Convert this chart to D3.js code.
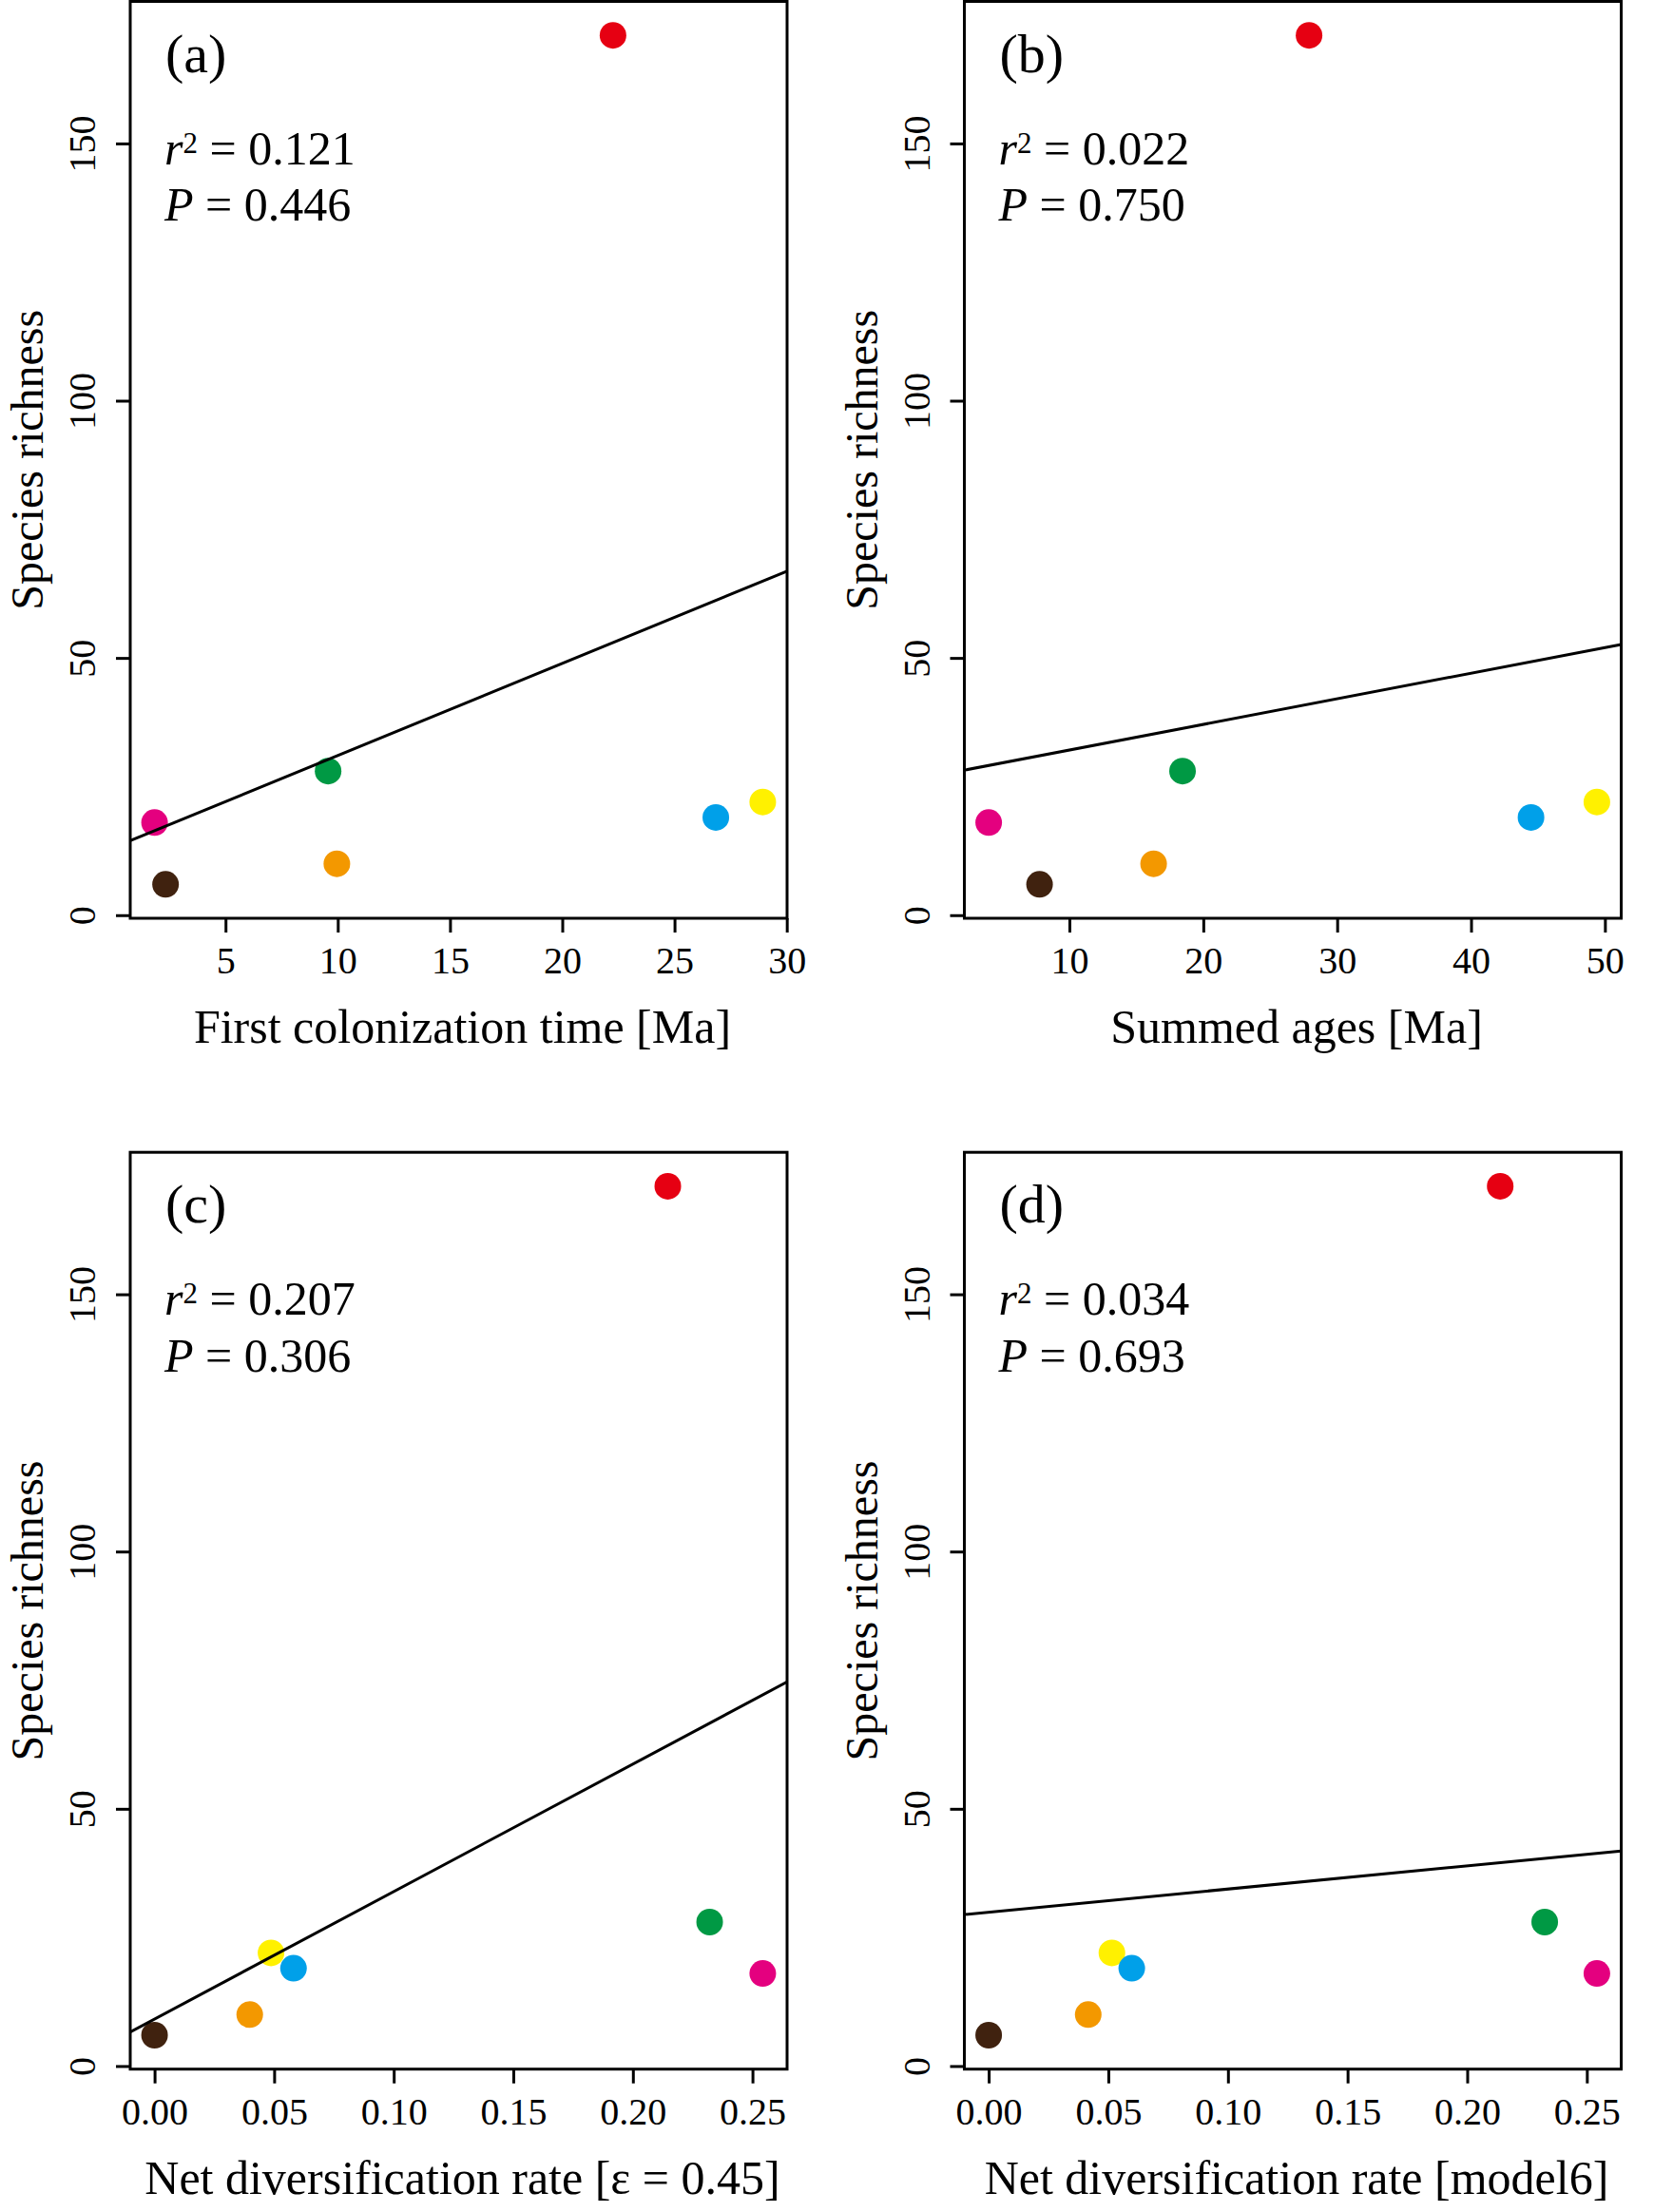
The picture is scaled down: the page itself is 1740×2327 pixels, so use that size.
<!DOCTYPE html>
<html>
<head>
<meta charset="utf-8">
<script src="https://cdn.jsdelivr.net/npm/d3@7"></script>
<style>
  body { margin: 0; background: #fff; }
  text { font-family: "Liberation Serif", "Times New Roman", serif; fill: #000; }
</style>
</head>
<body>
<div id="chart"></div>
<script>
// colour groups (order = drawing order)
var groupColors = ["#E60012", "#009944", "#E4007F", "#40220F", "#F39800", "#FFF100", "#00A0E9"];
var richness = [171, 28, 18, 6, 10, 22, 19];

var firstColonization = [22.26, 9.57, 1.84, 2.33, 9.96, 28.93, 26.84];
var summedAges = [27.9, 18.45, 3.97, 7.77, 16.29, 49.40, 44.48];
var netDivEps = [0.2146, 0.2321, 0.2543, 0, 0.0398, 0.0487, 0.0581];
var netDivModel6 = [0.2138, 0.2324, 0.2542, 0, 0.0416, 0.0515, 0.0598];

var panelTags = ["(a)", "(b)", "(c)", "(d)"];
var xTitles = ["First colonization time [Ma]", "Summed ages [Ma]",
               "Net diversification rate [\u03b5 = 0.45]", "Net diversification rate [model6]"];
var xTickValues = [[5, 10, 15, 20, 25, 30], [10, 20, 30, 40, 50],
                   [0, 0.05, 0.10, 0.15, 0.20, 0.25], [0, 0.05, 0.10, 0.15, 0.20, 0.25]];
var yTickValues = [0, 50, 100, 150];
var r2Labels = ["0.121", "0.022", "0.207", "0.034"];
var pLabels = ["0.446", "0.750", "0.306", "0.693"];
// fitted lines
var fitIntercept = [13.13, 27.12, 9.13, 29.9];
var fitSlope = [1.790, 0.498, 247.8, 45.0];

var xSeries = [firstColonization, summedAges, netDivEps, netDivModel6];

var width = 1740, height = 2327;
var colLeft = [137, 1014.5], rowTop = [1.5, 1212.2];
var boxW = 691, boxH = 964.5;

var svg = d3.select("#chart").append("svg")
    .attr("width", width)
    .attr("height", height);

svg.append("rect").attr("width", width).attr("height", height).attr("fill", "#fff");

// R style axis range: data range extended by 4% on each side
function rExtent(values) {
    var ext = d3.extent(values);
    var pad = (ext[1] - ext[0]) * 0.04;
    return [ext[0] - pad, ext[1] + pad];
}

xSeries.forEach(function (xs, i) {
    var left = colLeft[i % 2], top = rowTop[Math.floor(i / 2)];
    var g = svg.append("g").attr("transform", "translate(" + left + "," + top + ")");

    var x = d3.scaleLinear().domain(rExtent(xs)).range([0, boxW]);
    var y = d3.scaleLinear().domain(rExtent(richness)).range([boxH, 0]);

    g.append("clipPath").attr("id", "clip" + i)
        .append("rect").attr("width", boxW).attr("height", boxH);

    // x axis
    var xFormat = i >= 2 ? d3.format(".2f") : d3.format("d");
    var xa = g.append("g")
        .attr("transform", "translate(0," + boxH + ")")
        .call(d3.axisBottom(x).tickValues(xTickValues[i]).tickSize(15).tickFormat(xFormat));
    xa.select(".domain").remove();
    xa.selectAll("line").attr("stroke", "#000").attr("stroke-width", 3);
    xa.selectAll("text")
        .attr("y", 58).attr("dy", null)
        .style("font-size", "40px")
        .style("font-family", "'Liberation Serif', serif");

    // y axis
    var ya = g.append("g")
        .call(d3.axisLeft(y).tickValues(yTickValues).tickSize(15));
    ya.select(".domain").remove();
    ya.selectAll("line").attr("stroke", "#000").attr("stroke-width", 3);
    ya.selectAll("text")
        .attr("x", 0).attr("dy", null)
        .attr("text-anchor", "middle")
        .attr("transform", "translate(-37,0) rotate(-90)")
        .style("font-size", "40px")
        .style("font-family", "'Liberation Serif', serif");

    // axis titles
    g.append("text")
        .attr("x", boxW / 2 + 4).attr("y", boxH + 131)
        .attr("text-anchor", "middle")
        .style("font-size", "50px")
        .text(xTitles[i]);

    g.append("text")
        .attr("transform", "translate(-92," + (boxH / 2) + ") rotate(-90)")
        .attr("text-anchor", "middle")
        .style("font-size", "48px")
        .text("Species richness");

    // points
    var plot = g.append("g").attr("clip-path", "url(#clip" + i + ")");
    plot.selectAll("circle")
        .data(xs.map(function (d, k) { return { x: d, y: richness[k], c: groupColors[k] }; }))
        .join("circle")
        .attr("cx", function (d) { return x(d.x); })
        .attr("cy", function (d) { return y(d.y); })
        .attr("r", 14)
        .attr("fill", function (d) { return d.c; });

    // fitted line
    var xd = x.domain();
    plot.append("line")
        .attr("x1", x(xd[0])).attr("y1", y(fitIntercept[i] + fitSlope[i] * xd[0]))
        .attr("x2", x(xd[1])).attr("y2", y(fitIntercept[i] + fitSlope[i] * xd[1]))
        .attr("stroke", "#000")
        .attr("stroke-width", 3);

    // panel tag and statistics
    g.append("text")
        .attr("x", 37).attr("y", 74)
        .style("font-size", "58px")
        .text(panelTags[i]);

    var r2 = g.append("text")
        .attr("x", 36).attr("y", 171)
        .style("font-size", "50px");
    r2.append("tspan").style("font-style", "italic").text("r");
    r2.append("tspan").attr("dy", -12).style("font-size", "31px").text("2");
    r2.append("tspan").attr("dy", 12).text("\u00a0=\u00a0" + r2Labels[i]);

    var p = g.append("text")
        .attr("x", 36).attr("y", 230.5)
        .style("font-size", "50px");
    p.append("tspan").style("font-style", "italic").text("P");
    p.append("tspan").text("\u00a0=\u00a0" + pLabels[i]);

    // frame
    g.append("rect")
        .attr("width", boxW).attr("height", boxH)
        .attr("fill", "none")
        .attr("stroke", "#000")
        .attr("stroke-width", 3);
});
</script>
</body>
</html>
